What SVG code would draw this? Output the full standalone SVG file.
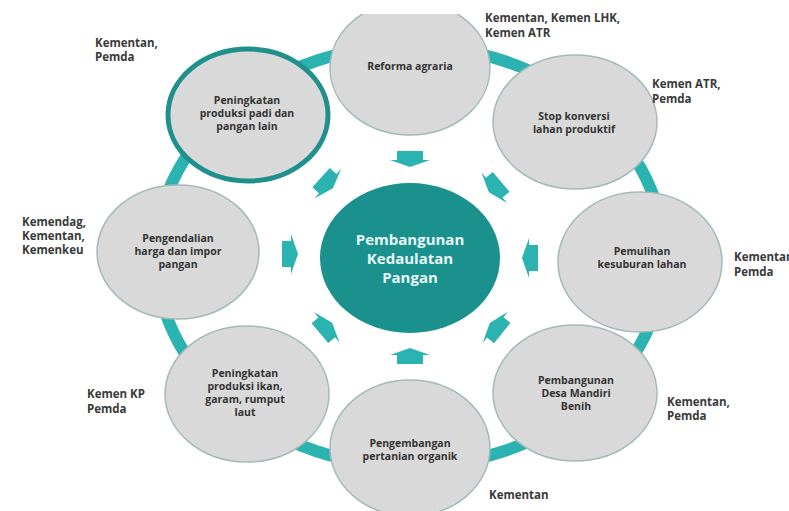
<svg xmlns="http://www.w3.org/2000/svg" width="789" height="511" viewBox="0 0 789 511">
<style>
.node{fill:#d9d9d9;stroke:#a3baba;stroke-width:1.5}
.nt{font-family:"Open Sans","Liberation Sans",sans-serif;font-weight:bold;font-size:10.5px;fill:#333;text-anchor:middle}
.lb{font-family:"Open Sans","Liberation Sans",sans-serif;font-weight:bold;font-size:11.5px;fill:#3a3a3a}
.arr{fill:#2ab3b1}
.ct{font-family:"Open Sans","Liberation Sans",sans-serif;font-weight:bold;font-size:15px;fill:#e8f7f7;text-anchor:middle}
</style>
<defs>
<clipPath id="cl"><rect x="0" y="14" width="789" height="497"/></clipPath>
<polygon id="ar" points="-8,-13 1,-13 1,-20 8,0 1,20 1,13 -8,13"/>
</defs>
<rect width="789" height="511" fill="#fff"/>
<g clip-path="url(#cl)">
<g id="connectors">
<ellipse cx="410" cy="256" rx="254" ry="210" fill="none" stroke="#2ab3b1" stroke-width="12"/>
<g class="arr">
<use href="#ar" transform="translate(410,159) rotate(90)"/>
<use href="#ar" transform="translate(410,356) rotate(-90)"/>
<use href="#ar" transform="translate(290,254)"/>
<use href="#ar" transform="translate(530,258) rotate(180)"/>
<use href="#ar" transform="translate(327,183) rotate(42)"/>
<use href="#ar" transform="translate(495,187) rotate(140)"/>
<use href="#ar" transform="translate(326,328) rotate(-40)"/>
<use href="#ar" transform="translate(496,328) rotate(-141)"/>
</g>
</g>
<g id="center">
<ellipse cx="410" cy="258" rx="90" ry="75" fill="#1b918d"/>
<text class="ct" x="410" y="245">Pembangunan</text>
<text class="ct" x="410" y="264">Kedaulatan</text>
<text class="ct" x="410" y="283">Pangan</text>
</g>
<g id="n-reforma">
<ellipse class="node" cx="410" cy="68" rx="80" ry="67"/>
<text class="nt" x="410" y="70">Reforma agraria</text>
</g>
<g id="n-stop">
<ellipse class="node" cx="575" cy="122" rx="82" ry="67"/>
<text class="nt" x="574" y="120">Stop konversi</text>
<text class="nt" x="574" y="133">lahan produktif</text>
</g>
<g id="n-pemulihan">
<ellipse class="node" cx="640" cy="262" rx="82" ry="70"/>
<text class="nt" x="642" y="255">Pemulihan</text>
<text class="nt" x="642" y="268">kesuburan lahan</text>
</g>
<g id="n-desa">
<ellipse class="node" cx="575" cy="393" rx="82" ry="68"/>
<text class="nt" x="576" y="384">Pembangunan</text>
<text class="nt" x="576" y="397">Desa Mandiri</text>
<text class="nt" x="576" y="410">Benih</text>
</g>
<g id="n-organik">
<ellipse class="node" cx="410" cy="448" rx="80" ry="68"/>
<text class="nt" x="410" y="447">Pengembangan</text>
<text class="nt" x="410" y="460">pertanian organik</text>
</g>
<g id="n-ikan">
<ellipse class="node" cx="247" cy="394" rx="82" ry="68"/>
<text class="nt" x="245" y="377">Peningkatan</text>
<text class="nt" x="245" y="390">produksi ikan,</text>
<text class="nt" x="245" y="403">garam, rumput</text>
<text class="nt" x="245" y="416">laut</text>
</g>
<g id="n-harga">
<ellipse class="node" cx="178" cy="252" rx="81" ry="67"/>
<text class="nt" x="178" y="242">Pengendalian</text>
<text class="nt" x="178" y="255">harga dan impor</text>
<text class="nt" x="178" y="268">pangan</text>
</g>
<g id="n-padi">
<ellipse class="node" cx="248" cy="115" rx="80" ry="66" style="stroke:#1f908c;stroke-width:5"/>
<text class="nt" x="247" y="104">Peningkatan</text>
<text class="nt" x="247" y="117">produksi padi dan</text>
<text class="nt" x="247" y="130">pangan lain</text>
</g>
</g>
<g id="labels">
<text class="lb" x="485" y="22">Kementan, Kemen LHK,</text>
<text class="lb" x="485" y="37">Kemen ATR</text>
<text class="lb" x="95" y="47">Kementan,</text>
<text class="lb" x="95" y="61">Pemda</text>
<text class="lb" x="652" y="88">Kemen ATR,</text>
<text class="lb" x="652" y="103">Pemda</text>
<text class="lb" x="734" y="261">Kementan,</text>
<text class="lb" x="734" y="276">Pemda</text>
<text class="lb" x="667" y="406">Kementan,</text>
<text class="lb" x="667" y="420">Pemda</text>
<text class="lb" x="489" y="499">Kementan</text>
<text class="lb" x="87" y="398">Kemen KP</text>
<text class="lb" x="87" y="413">Pemda</text>
<text class="lb" x="22" y="226">Kemendag,</text>
<text class="lb" x="22" y="240">Kementan,</text>
<text class="lb" x="22" y="254">Kemenkeu</text>
</g>
</svg>
